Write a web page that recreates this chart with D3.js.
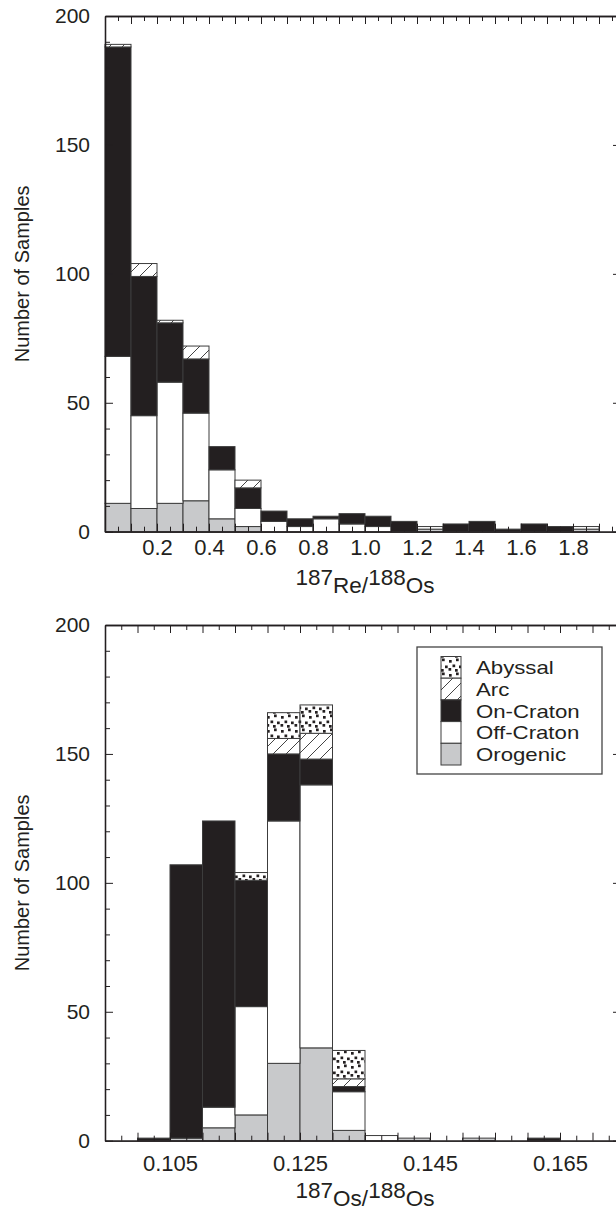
<!DOCTYPE html>
<html><head><meta charset="utf-8">
<script src="https://cdn.jsdelivr.net/npm/d3@7"></script>
<style>
body{margin:0;background:#fff;}
svg{display:block;}
text{font-family:"Liberation Sans",Arial,Helvetica,sans-serif;fill:#231f20;}
</style>
</head><body>
<svg id="chart" width="616" height="1212"></svg>
<script>
// ---------- DATA ----------
const seriesKeys = ["Orogenic","Off-Craton","On-Craton","Arc","Abyssal"];
const legendOrder = ["Abyssal","Arc","On-Craton","Off-Craton","Orogenic"];

// Top panel: 187Re/188Os histogram (bin lower edges, width 0.1)
const reBinStart = [0.0,0.1,0.2,0.3,0.4,0.5,0.6,0.7,0.8,0.9,1.0,1.1,1.2,1.3,1.4,1.5,1.6,1.7,1.8];
const reBinWidth = 0.1;
const reOrogenic  = [11, 9,11,12, 5, 2, 0, 0, 0, 0, 0, 0, 1, 0, 0, 0, 0, 0, 1];
const reOffCraton = [57,36,47,34,19, 7, 4, 2, 5, 3, 2, 0, 1, 0, 0, 0, 0, 0, 1];
const reOnCraton  = [120,54,23,21,9, 8, 4, 3, 1, 4, 4, 4, 0, 3, 4, 1, 3, 2, 0];
const reArc       = [ 1, 5, 1, 5, 0, 3, 0, 0, 0, 0, 0, 0, 0, 0, 0, 0, 0, 0, 0];
const reAbyssal   = [ 0, 0, 0, 0, 0, 0, 0, 0, 0, 0, 0, 0, 0, 0, 0, 0, 0, 0, 0];
const reDomain = [0, 2.0];
const reTickLabels = [0.2,0.4,0.6,0.8,1.0,1.2,1.4,1.6,1.8];

// Bottom panel: 187Os/188Os histogram (bin lower edges, width 0.005)
const osBinStart = [0.100,0.105,0.110,0.115,0.120,0.125,0.130,0.135,0.140,0.145,0.150,0.155,0.160];
const osBinWidth = 0.005;
const osOrogenic  = [0, 1,  5, 10, 30, 36,  4, 0, 1, 0, 1, 0, 0];
const osOffCraton = [0, 0,  8, 42, 94,102, 15, 2, 0, 0, 0, 0, 0];
const osOnCraton  = [1,106,111,49, 26, 10,  2, 0, 0, 0, 0, 0, 1];
const osArc       = [0, 0,  0,  0,  6, 10,  3, 0, 0, 0, 0, 0, 0];
const osAbyssal   = [0, 0,  0,  3, 10, 11, 11, 0, 0, 0, 0, 0, 0];
const osDomain = [0.095, 0.175];
const osTickLabels = [0.105,0.125,0.145,0.165];

const yDomain = [0, 200];
const yTickLabels = [0,50,100,150,200];

// ---------- STYLE ----------
const fills = {
  "Orogenic":"#c8c9cb",
  "Off-Craton":"#ffffff",
  "On-Craton":"#231f20",
  "Arc":"url(#hatch)",
  "Abyssal":"url(#dots)"
};
const ink = "#231f20";
const FONT = "Liberation Sans, Arial, sans-serif";

const svg = d3.select("#chart");
const defs = svg.append("defs");
const ph = defs.append("pattern").attr("id","hatch").attr("patternUnits","userSpaceOnUse")
  .attr("width",13).attr("height",13);
ph.append("rect").attr("width",13).attr("height",13).attr("fill","#fff");
ph.append("path").attr("d","M0,13L13,0M-2,2L2,-2M11,15L15,11").attr("stroke","#444").attr("stroke-width",1);
const pd = defs.append("pattern").attr("id","dots").attr("patternUnits","userSpaceOnUse")
  .attr("width",14).attr("height",14);
pd.append("rect").attr("width",14).attr("height",14).attr("fill","#fff");
[[1,2],[8,0.5],[4.5,6.5],[11,7.5],[7,11],[0.5,10]].forEach(p=>{
  pd.append("rect").attr("x",p[0]).attr("y",p[1]).attr("width",2.7).attr("height",2.7).attr("fill",ink);
});

function buildRows(starts, arrs){
  return starts.map((s,i)=>{
    const r = {start:s};
    seriesKeys.forEach((k,j)=>{ r[k] = arrs[j][i]; });
    return r;
  });
}

function panel(opts){
  const {top, bottom, left, right, domain, starts, width, arrs,
         majorStep, minorStep, tickLabels, fmt, labelPad, title, titleY} = opts;
  const x = d3.scaleLinear().domain(domain).range([left,right]);
  const y = d3.scaleLinear().domain(yDomain).range([bottom,top]);
  const g = svg.append("g");

  const rows = buildRows(starts, arrs);
  const stack = d3.stack().keys(seriesKeys)(rows);
  stack.forEach(layer=>{
    g.append("g").selectAll("rect").data(layer.filter(d=>d[1]-d[0]>0)).join("rect")
      .attr("x",d=>x(d.data.start))
      .attr("width",d=>x(d.data.start+width)-x(d.data.start))
      .attr("y",d=>y(d[1]))
      .attr("height",d=>y(d[0])-y(d[1]))
      .attr("fill",fills[layer.key])
      .attr("stroke","#3c3c3c").attr("stroke-width",1);
  });

  const n = Math.round((domain[1]-domain[0])/minorStep);
  const allX = d3.range(n+1).map(i=>domain[0]+i*minorStep);
  const isMajor = v => Math.abs(v/majorStep - Math.round(v/majorStep))<1e-6;
  const majX = allX.filter(isMajor), minX = allX.filter(v=>!isMajor(v));
  const yMin = d3.range(0,201,10).filter(v=>v%50!==0);

  const axisStyle = sel=>{ sel.selectAll("line").attr("stroke",ink).attr("stroke-width",1);
                           sel.select(".domain").attr("stroke",ink).attr("stroke-width",1.3); };

  g.append("g").attr("transform",`translate(0,${bottom})`)
    .call(d3.axisBottom(x).tickValues(minX).tickSize(-5).tickSizeOuter(0).tickFormat("")).call(axisStyle);
  g.append("g").attr("transform",`translate(0,${bottom})`)
    .call(d3.axisBottom(x).tickValues(majX).tickSize(-8).tickSizeOuter(0).tickFormat("")).call(axisStyle);
  const lab = g.append("g").attr("transform",`translate(0,${bottom})`)
    .call(d3.axisBottom(x).tickValues(tickLabels).tickSize(0).tickSizeOuter(0).tickPadding(labelPad).tickFormat(fmt));
  lab.select(".domain").remove();
  lab.selectAll("text").attr("font-size",22).attr("fill",ink).attr("font-family",FONT);
  g.append("g").attr("transform",`translate(0,${top})`)
    .call(d3.axisTop(x).tickValues(minX).tickSize(-5).tickSizeOuter(0).tickFormat("")).call(axisStyle);
  g.append("g").attr("transform",`translate(0,${top})`)
    .call(d3.axisTop(x).tickValues(majX).tickSize(-8).tickSizeOuter(0).tickFormat("")).call(axisStyle);
  g.append("g").attr("transform",`translate(${left},0)`)
    .call(d3.axisLeft(y).tickValues(yMin).tickSize(-5).tickSizeOuter(0).tickFormat("")).call(axisStyle);
  const ly = g.append("g").attr("transform",`translate(${left},0)`)
    .call(d3.axisLeft(y).tickValues(yTickLabels).tickSize(-8).tickSizeOuter(0).tickPadding(15).tickFormat(d3.format("d"))).call(axisStyle);
  ly.selectAll("text").attr("font-size",21).attr("fill",ink).attr("font-family",FONT);
  g.append("g").attr("transform",`translate(${right},0)`)
    .call(d3.axisRight(y).tickValues(yMin).tickSize(-5).tickSizeOuter(0).tickFormat("")).call(axisStyle);
  g.append("g").attr("transform",`translate(${right},0)`)
    .call(d3.axisRight(y).tickValues(yTickLabels).tickSize(-12).tickSizeOuter(0).tickFormat("")).call(axisStyle);

  g.append("text").attr("transform",`translate(29,${(top+bottom)/2}) rotate(-90)`)
    .attr("text-anchor","middle").attr("font-size",20).text("Number of Samples");
  const t = g.append("text").attr("x",(left+right)/2).attr("y",titleY)
    .attr("text-anchor","middle").attr("font-size",22.5);
  t.append("tspan").text(title[0]);
  t.append("tspan").attr("dy",8).text(title[1]);
  t.append("tspan").attr("dy",-8).text(title[2]);
  t.append("tspan").attr("dy",8).text(title[3]);
  return {x,y};
}

panel({top:16,bottom:531.7,left:105,right:625,domain:reDomain,starts:reBinStart,width:reBinWidth,
  arrs:[reOrogenic,reOffCraton,reOnCraton,reArc,reAbyssal],
  majorStep:0.1,minorStep:0.05,tickLabels:reTickLabels,fmt:d3.format(".1f"),labelPad:8,
  title:["187","Re/","188","Os"],titleY:585});

panel({top:625,bottom:1140.7,left:105,right:625,domain:osDomain,starts:osBinStart,width:osBinWidth,
  arrs:[osOrogenic,osOffCraton,osOnCraton,osArc,osAbyssal],
  majorStep:0.005,minorStep:0.0025,tickLabels:osTickLabels,fmt:d3.format(".3f"),labelPad:15,
  title:["187","Os/","188","Os"],titleY:1198});

// legend
const lg = svg.append("g");
lg.append("rect").attr("x",417).attr("y",647).attr("width",185).attr("height",127)
  .attr("fill","#fff").attr("stroke","#444").attr("stroke-width",1.3);
const sh = 21.7;
legendOrder.forEach((k,i)=>{
  const yy = 656.5 + i*sh;
  lg.append("rect").attr("x",441).attr("y",yy).attr("width",20).attr("height",sh)
    .attr("fill",fills[k]).attr("stroke","#3c3c3c").attr("stroke-width",1);
  const tx = lg.append("text").attr("x",476).attr("y",yy+sh/2+7).attr("font-size",18.5).text(k);
  const w = tx.node().getComputedTextLength();
  tx.attr("textLength",w*1.2).attr("lengthAdjust","spacingAndGlyphs");
});
</script>
</body></html>
